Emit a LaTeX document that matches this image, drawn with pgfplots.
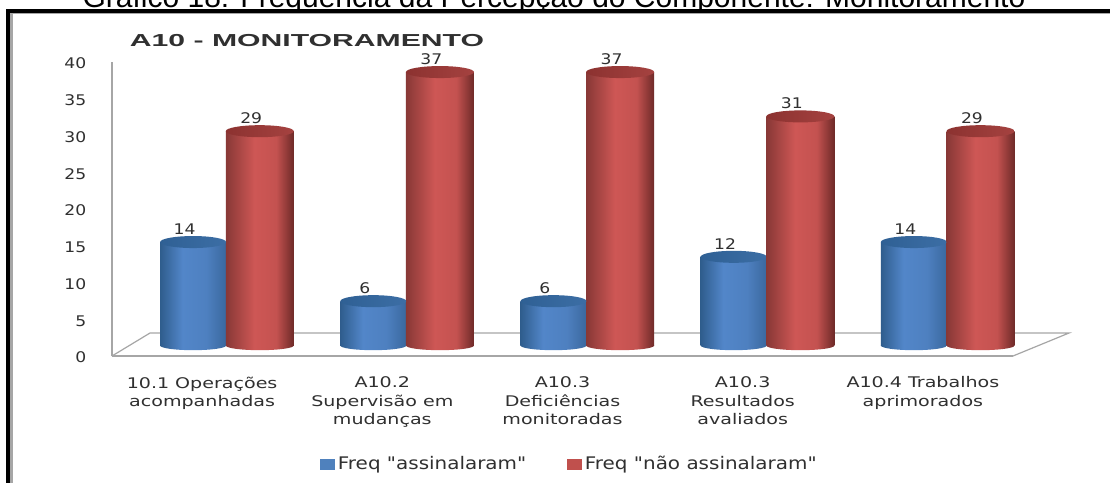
\documentclass[border=0pt]{standalone}
\usepackage{fontspec}
\setmainfont{DejaVu Sans}
\newfontfamily\arialfont{Liberation Sans}
\newfontfamily\legfont{DejaVu Sans}[Ligatures=Rare,RawFeature={-tlig}]
\usepackage{pgfplots}
\usepackage{pgfplotstable}
\pgfplotsset{compat=1.18}

\definecolor{wallgray}{HTML}{A6A6A6}
\definecolor{txt}{HTML}{303030}
\definecolor{legblue}{HTML}{4F81BD}
\definecolor{legred}{HTML}{C0504D}
\definecolor{bl0}{RGB}{47,93,141}
\definecolor{bl1}{RGB}{82,134,201}
\definecolor{bl2}{RGB}{78,128,192}
\definecolor{bl3}{RGB}{58,104,158}
\definecolor{bltop0}{RGB}{47,96,148}
\definecolor{bltop1}{RGB}{60,110,165}
\definecolor{rd0}{RGB}{136,56,54}
\definecolor{rd1}{RGB}{206,87,85}
\definecolor{rd2}{RGB}{196,82,80}
\definecolor{rd3}{RGB}{110,42,40}
\definecolor{rdtop0}{RGB}{140,50,48}
\definecolor{rdtop1}{RGB}{165,66,64}

% visible part of a 100bp shading is 25bp..75bp
\pgfdeclarehorizontalshading{cylblue}{100bp}{
  color(0bp)=(bl0); color(25bp)=(bl0); color(42bp)=(bl1);
  color(60bp)=(bl2); color(75bp)=(bl3); color(100bp)=(bl3)}
\pgfdeclarehorizontalshading{cylred}{100bp}{
  color(0bp)=(rd0); color(25bp)=(rd0); color(46bp)=(rd1);
  color(62bp)=(rd2); color(75bp)=(rd3); color(100bp)=(rd3)}

\pgfdeclareplotmark{topblue}{\path[rotate=3,left color=bltop0,right color=bltop1,draw=none] (0pt,0pt) ellipse (24.75pt and 4.5pt);}
\pgfdeclareplotmark{topred}{\path[rotate=3,left color=rdtop0,right color=rdtop1,draw=none] (0pt,0pt) ellipse (25.5pt and 4.5pt);}
\pgfdeclareplotmark{baseblue}{\path[rotate=3,shade,shading=cylblue,draw=none] (0pt,0pt) ellipse (24.75pt and 3.5pt);}
\pgfdeclareplotmark{basered}{\path[rotate=3,shade,shading=cylred,draw=none] (0pt,0pt) ellipse (25.5pt and 3.5pt);}

% x: position of each cylinder in category units
\pgfplotstableread{
xb    xr    blue red base
-0.05 0.32  14   29  0
0.95  1.32  6    37  0
1.95  2.32  6    37  0
2.95  3.32  12   31  0
3.95  4.32  14   29  0
}\freq

% one plot per bar, so each cylinder gets its own shading
\pgfplotsset{
  blue cyl/.style={ybar,bar shift=0pt,bar width=49.5pt,draw=none,shade,shading=cylblue,nodes near coords,forget plot},
  red cyl/.style={ybar,bar shift=0pt,bar width=51pt,draw=none,shade,shading=cylred,nodes near coords,forget plot},
}

\begin{document}
\begin{tikzpicture}[x=0.75pt,y=0.75pt]
\path[use as bounding box] (0,0) rectangle (1110,483);
\clip (0,0) rectangle (1110,483);

% caption cut off by the top of the page, and the frame
\node[anchor=base,font=\arialfont\fontsize{22.5}{26}\selectfont,text=black] at (554,475) {Gráfico 18: Frequência da Percepção do Componente: Monitoramento};
\fill[white] (0,0) rectangle (1110,470);
\fill[black] (6,0) rectangle (10,474);
\fill[black] (6,470) rectangle (1110,474);
\fill[wallgray] (10,0) rectangle (13,470);
\fill[wallgray] (10,469) rectangle (1110,470);
\node[anchor=center,xscale=1.74,font=\arialfont\bfseries\fontsize{13}{16}\selectfont,text=txt] at (307,442) {A10 - MONITORAMENTO};

% walls and tick labels: value axis is 294 px high
\begin{axis}[
    at={(84pt,95.25pt)}, anchor=south west,
    scale only axis,
    width=675.75pt, height=220.5pt,
    xmin=-0.5, xmax=4.5,
    ymin=0, ymax=40,
    clip=false,
    axis lines*=left,
    axis line style={wallgray,-,line width=0.9pt},
    tick style={draw=none},
    ytick={0,5,...,40},
    xtick={0,1,2,3,4},
    xticklabels={{10.1 Operações\\acompanhadas},{A10.2\\Supervisão em\\mudanças},{A10.3\\Deficiências\\monitoradas},{A10.3\\Resultados\\avaliados},{A10.4 Trabalhos\\aprimorados}},
    xticklabel style={align=center,xscale=1.3,font=\fontsize{11}{14}\selectfont,text=txt,anchor=north,yshift=-12pt},
    yticklabel style={xscale=1.17,font=\fontsize{11}{12}\selectfont,text=txt,anchor=east,xshift=-13pt,yshift=-1.2pt},
    /pgf/number format/assume math mode=true,
]
\addplot[wallgray,line width=0.9pt] coordinates {(-0.5,0) (-0.289,3.13) (4.811,3.13) (4.5,0)};
\end{axis}

% cylinders: bar scale 7.39 px per unit, base at y=345.5 px
\begin{axis}[
    at={(84pt,95.25pt)}, anchor=south west,
    scale only axis,
    width=675.75pt, height=220.5pt,
    xmin=-0.5, xmax=4.5,
    ymin=-1.42, ymax=38.36,
    clip=false,
    hide axis,
    legend columns=2,
    legend style={at={(0.508,-0.368)},anchor=center,draw=none,fill=none,font=\legfont\fontsize{13}{14}\selectfont,text=txt,
      nodes={xscale=1.15},
      /tikz/every even column/.style={column sep=28pt}},
    nodes near coords style={xscale=1.17,font=\fontsize{11}{12}\selectfont,text=txt,xshift=-5.5pt,yshift=2pt,/pgf/number format/assume math mode=true},
]
\addplot[only marks,mark=baseblue,forget plot] table[x=xb,y=base] {\freq};
\addplot[blue cyl] coordinates {(-0.05,14)};
\addplot[blue cyl] coordinates {(0.95,6)};
\addplot[blue cyl] coordinates {(1.95,6)};
\addplot[blue cyl] coordinates {(2.95,12)};
\addplot[blue cyl] coordinates {(3.95,14)};
\addplot[only marks,mark=topblue,forget plot] table[x=xb,y=blue] {\freq};
\addplot[only marks,mark=basered,forget plot] table[x=xr,y=base] {\freq};
\addplot[red cyl] coordinates {(0.32,29)};
\addplot[red cyl] coordinates {(1.32,37)};
\addplot[red cyl] coordinates {(2.32,37)};
\addplot[red cyl] coordinates {(3.32,31)};
\addplot[red cyl] coordinates {(4.32,29)};
\addplot[only marks,mark=topred,forget plot] table[x=xr,y=red] {\freq};
\addlegendimage{legend image code/.code={\fill[legblue] (0pt,-4pt) rectangle (11pt,4pt);}}
\addlegendentry{Freq "assinalaram"}
\addlegendimage{legend image code/.code={\fill[legred] (0pt,-4pt) rectangle (11pt,4pt);}}
\addlegendentry{Freq "não assinalaram"}
\end{axis}
\end{tikzpicture}
\end{document}
